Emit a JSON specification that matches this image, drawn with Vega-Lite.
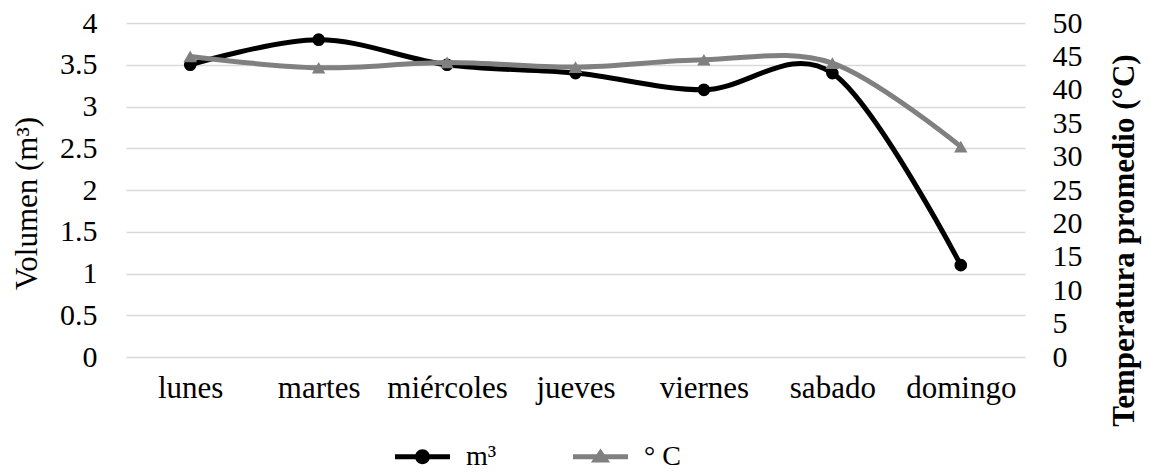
{
  "$schema": "https://vega.github.io/schema/vega-lite/v6.json",
  "width": 899,
  "height": 334,
  "autosize": {"type": "none"},
  "padding": {"left": 126, "top": 23, "right": 125, "bottom": 115},
  "config": {
    "font": "Liberation Serif",
    "view": {"stroke": null},
    "axis": {"labelColor": "#000000", "titleColor": "#000000", "labelFont": "Liberation Serif", "titleFont": "Liberation Serif"}
  },
  "data": {
    "values": [
      {"dia": "lunes", "m3": 3.5, "temp": 45.0},
      {"dia": "martes", "m3": 3.8, "temp": 43.3},
      {"dia": "miércoles", "m3": 3.5, "temp": 44.1},
      {"dia": "jueves", "m3": 3.4, "temp": 43.4},
      {"dia": "viernes", "m3": 3.2, "temp": 44.5},
      {"dia": "sabado", "m3": 3.4, "temp": 44.0},
      {"dia": "domingo", "m3": 1.1, "temp": 31.5}
    ]
  },
  "encoding": {
    "x": {
      "field": "dia",
      "type": "ordinal",
      "sort": null,
      "scale": {"type": "point", "padding": 0.5},
      "axis": {"title": null, "labelAngle": 0, "labelFontSize": 31, "labelPadding": 16, "ticks": false, "domain": false, "grid": false}
    }
  },
  "layer": [
    {
      "encoding": {
        "y": {
          "field": "m3",
          "type": "quantitative",
          "scale": {"domain": [0, 4]},
          "axis": {
            "orient": "left",
            "values": [0, 0.5, 1, 1.5, 2, 2.5, 3, 3.5, 4],
            "format": "~g",
            "title": "Volumen (m³)",
            "labelFontSize": 30,
            "labelPadding": 29,
            "ticks": false,
            "domain": false,
            "grid": true,
            "gridColor": "#d9d9d9",
            "gridWidth": 1.5,
            "titleFontSize": 31,
            "titleFontWeight": "normal",
            "titleAngle": 270,
            "titleX": -99,
            "titleY": 180,
            "titleBaseline": "middle",
            "titleAlign": "center"
          }
        }
      },
      "layer": [
        {
          "mark": {"type": "line", "interpolate": "cardinal", "strokeWidth": 5},
          "encoding": {
            "color": {"datum": "m³", "type": "nominal", "scale": {"domain": ["m³", "° C"], "range": ["#000000", "#808080"]}}
          }
        },
        {
          "mark": {"type": "point", "filled": true, "shape": "circle", "size": 160, "opacity": 1},
          "encoding": {
            "color": {
              "datum": "m³",
              "type": "nominal",
              "legend": {
                "title": null,
                "orient": "none",
                "legendX": 269,
                "legendY": 406,
                "direction": "horizontal",
                "padding": 0,
                "symbolSize": 3025,
                "symbolStrokeWidth": 0,
                "symbolOpacity": 1,
                "labelFont": "Liberation Serif",
                "labelFontSize": 28,
                "labelColor": "#000000",
                "labelOffset": 16,
                "columnPadding": 76,
                "encode": {
                  "symbols": {
                    "update": {
                      "shape": {"signal": "datum.value === 'm³' ? 'M-1,-0.09H1V0.09H-1Z M-0.27,0A0.27,0.27 0 1,1 0.27,0A0.27,0.27 0 1,1 -0.27,0Z' : 'M-1,-0.09H1V0.09H-1Z M0,-0.3L0.35,0.21L-0.35,0.21Z'"},
                      "fill": {"signal": "datum.value === 'm³' ? '#000000' : '#808080'"},
                      "strokeWidth": {"value": 0},
                      "opacity": {"value": 1}
                    }
                  }
                }
              }
            }
          }
        }
      ]
    },
    {
      "encoding": {
        "y": {
          "field": "temp",
          "type": "quantitative",
          "scale": {"domain": [0, 50]},
          "axis": {
            "orient": "right",
            "values": [0, 5, 10, 15, 20, 25, 30, 35, 40, 45, 50],
            "format": "~g",
            "title": "Temperatura promedio (°C)",
            "labelFontSize": 30,
            "labelPadding": 27,
            "ticks": false,
            "domain": false,
            "grid": false,
            "titleFontSize": 31,
            "titleFontWeight": "bold",
            "titleAngle": 270,
            "titleX": 99,
            "titleY": 217,
            "titleBaseline": "middle",
            "titleAlign": "center"
          }
        }
      },
      "layer": [
        {
          "mark": {"type": "line", "interpolate": "cardinal", "strokeWidth": 5},
          "encoding": {
            "color": {"datum": "° C", "type": "nominal"}
          }
        },
        {
          "mark": {"type": "point", "filled": true, "shape": "triangle-up", "size": 180, "opacity": 1},
          "encoding": {
            "color": {"datum": "° C", "type": "nominal"}
          }
        }
      ]
    }
  ],
  "resolve": {"scale": {"y": "independent"}}
}
